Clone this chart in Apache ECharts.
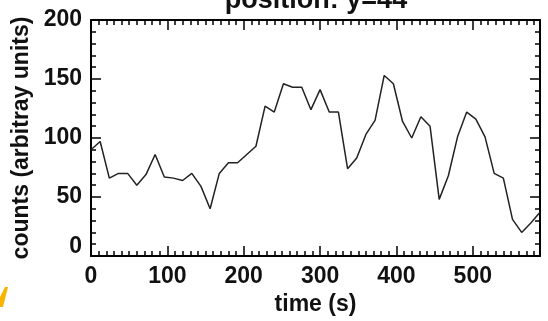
<!DOCTYPE html>
<html>
<head>
<meta charset="utf-8">
<script src="https://cdn.jsdelivr.net/npm/echarts@6/dist/echarts.min.js"></script>
<style>
html,body{margin:0;padding:0;background:#fff;}
#c{width:548px;height:321px;}
</style>
</head>
<body>
<div id="c"></div>
<script>
var titleText = 'position: y=44';
var xName = 'time (s)';
var yName = 'counts (arbitray units)';
var times = [0, 12, 24, 36, 48, 60, 72, 84, 96, 108, 120, 132, 144, 156, 168, 180, 192, 204, 216, 228,
             240, 252, 264, 276, 288, 300, 312, 324, 336, 348, 360, 372, 384, 396, 408, 420, 432, 444, 456, 468,
             480, 492, 504, 516, 528, 540, 552, 564, 576, 588];
var counts = [90, 97, 66, 70, 70, 60, 69, 86, 67, 66, 64, 70, 59, 40, 70, 79, 79, 86, 93, 127,
              122, 146, 143, 143, 124, 141, 122, 122, 74, 83, 103, 115, 153, 146, 114, 100, 118, 110, 48, 68,
              101, 122, 116, 101, 70, 66, 31, 20, 28, 37];
var xTicks = [0, 100, 200, 300, 400, 500];
var yTicks = [0, 50, 100, 150, 200];

var FONT = 'Liberation Sans';
var data = times.map(function (t, i) { return [t, counts[i]]; });

function xAxisBase(pos, showLabel) {
  return {
    type: 'value', position: pos, min: 0, max: 588, interval: 100,
    axisLine: { show: true, onZero: false, lineStyle: { color: '#000', width: 2 } },
    axisTick: { show: true, inside: true, length: 10, lineStyle: { color: '#000', width: 1.5 } },
    minorTick: { show: true, splitNumber: 10, length: 5, lineStyle: { color: '#000', width: 1.5 } },
    splitLine: { show: false },
    minorSplitLine: { show: false },
    axisLabel: {
      show: showLabel, margin: 9, color: '#111', fontFamily: FONT, fontWeight: 'bold', fontSize: 23,
      showMaxLabel: false,
      formatter: function (v) { return xTicks.indexOf(v) >= 0 ? String(v) : ''; }
    }
  };
}
function yAxisBase(pos, showLabel) {
  return {
    type: 'value', position: pos, min: 0, max: 200, interval: 50,
    axisLine: { show: true, onZero: false, lineStyle: { color: '#000', width: 2 } },
    axisTick: { show: true, inside: true, length: 10, lineStyle: { color: '#000', width: 1.5 } },
    minorTick: { show: true, splitNumber: 5, length: 5, lineStyle: { color: '#000', width: 1.5 } },
    splitLine: { show: false },
    axisLabel: {
      show: showLabel, margin: 9, color: '#111', fontFamily: FONT, fontWeight: 'bold', fontSize: 23,
      formatter: function (v) {
        if (yTicks.indexOf(v) < 0) return '';
        return v === 0 ? '{z|0}' : String(v);
      },
      rich: { z: { padding: [0, 0, 19, 0], color: '#111', fontFamily: FONT, fontWeight: 'bold', fontSize: 23 } }
    }
  };
}

var xb = xAxisBase('bottom', true);
xb.name = xName; xb.nameLocation = 'middle'; xb.nameGap = 32;
xb.nameTextStyle = { color: '#111', fontFamily: FONT, fontWeight: 'bold', fontSize: 23 };
var yl = yAxisBase('left', true);
yl.name = yName; yl.nameLocation = 'middle'; yl.nameGap = 57;
yl.nameTextStyle = { color: '#111', fontFamily: FONT, fontWeight: 'bold', fontSize: 23 };

var chart = echarts.init(document.getElementById('c'), null, { renderer: 'canvas' });
chart.setOption({
  animation: false,
  backgroundColor: '#fff',
  title: {
    text: titleText, left: 316, top: -13, textAlign: 'center', padding: 0,
    textStyle: { color: '#111', fontFamily: FONT, fontWeight: 'bold', fontSize: 27 }
  },
  grid: { left: 91, right: 8, top: 20, bottom: 65, containLabel: false },
  xAxis: [xb, xAxisBase('top', false)],
  yAxis: [yl, yAxisBase('right', false)],
  graphic: [{
    type: 'polygon', silent: true,
    shape: { points: [[0, 297], [5, 287], [8, 287], [3, 307], [0, 307]] },
    style: { fill: '#F7B500' }
  }],
  series: [{
    type: 'line', xAxisIndex: 0, yAxisIndex: 0, data: data,
    showSymbol: false, symbol: 'none',
    lineStyle: { color: '#222', width: 1.5 },
    clip: true
  }]
});
</script>
</body>
</html>
